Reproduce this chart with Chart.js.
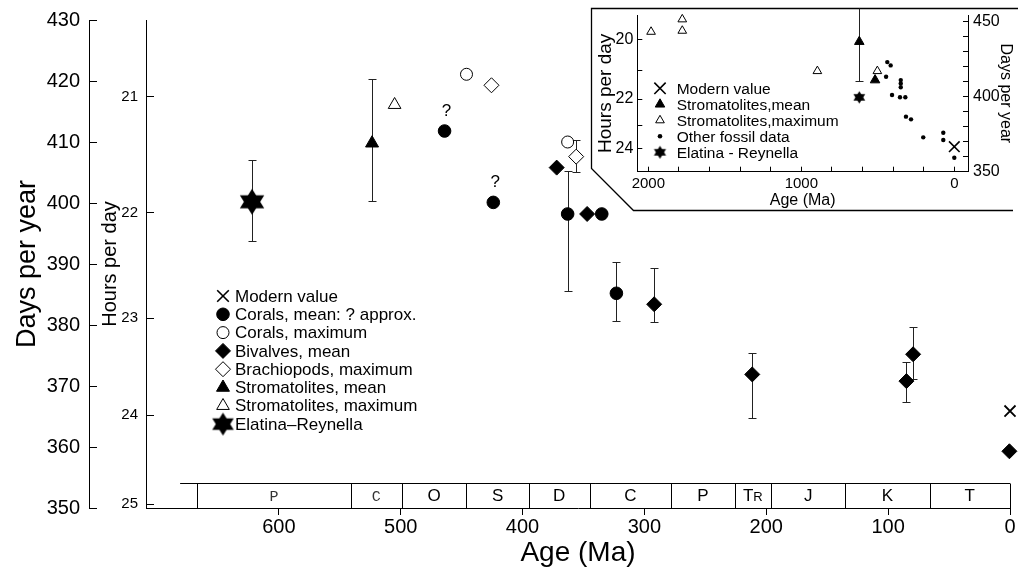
<!DOCTYPE html>
<html>
<head>
<meta charset="utf-8">
<script src="https://cdn.jsdelivr.net/npm/chart.js@4/dist/chart.umd.min.js"></script>
<style>
  html, body { margin: 0; padding: 0; background: #fff; }
  #wrap { position: relative; width: 1018px; height: 571px; overflow: hidden; }
  #main { position: absolute; left: 0; top: 0; width: 1018px; height: 571px; }
  #inset { position: absolute; left: 585px; top: 0; width: 433px; height: 215px; }
</style>
</head>
<body>
<div id="wrap">
  <canvas id="main" width="1018" height="571"></canvas>
  <canvas id="inset" width="433" height="215"></canvas>
</div>
<script>
// ---------------- DATA: main chart (Phanerozoic) ----------------
const modernAge = [0];
const modernDays = [365.9];

const coralMeanAge  = [464, 424, 363, 335, 323];
const coralMeanDays = [411.8, 400.1, 398.2, 398.2, 385.2];
const coralMeanLow  = [null, null, 385.5, null, 380.7];
const coralMeanHigh = [null, null, 405.3, null, 390.4];
const coralMeanNote = ['?', '?', '', '', ''];

const coralMaxAge  = [446, 363];
const coralMaxDays = [421.1, 410.0];

const bivalveAge  = [372, 347, 292, 211.5, 85, 79.5, 0.5];
const bivalveDays = [405.8, 398.2, 383.4, 371.9, 370.8, 375.2, 359.3];
const bivalveLow  = [null, null, 380.5, 364.7, 367.3, 371.1, null];
const bivalveHigh = [null, null, 389.4, 375.4, 373.9, 379.7, null];

const brachAge  = [425.5, 356];
const brachDays = [419.3, 407.6];
const brachLow  = [null, 405.1];
const brachHigh = [null, 410.4];

const stromMeanAge  = [523.5];
const stromMeanDays = [409.8];
const stromMeanLow  = [400.4];
const stromMeanHigh = [420.3];

const stromMaxAge  = [505];
const stromMaxDays = [416.1];

const elatinaAge  = [622];
const elatinaDays = [400.2];
const elatinaLow  = [393.8];
const elatinaHigh = [407.1];

const ageTicks   = [600, 500, 400, 300, 200, 100, 0];
const hoursTicks = [21, 22, 23, 24, 25];
const periodNames  = ['P', 'C', 'O', 'S', 'D', 'C', 'P', 'TR', 'J', 'K', 'T'];
const periodBounds = [667, 541, 499, 446, 395, 345, 278, 226, 196, 135, 66, 0];
const scaleBarStart = 681;

// ---------------- DATA: inset (last 2000 Ma) ----------------
const insetModernAge  = [0];
const insetModernDays = [366.7];

const insetStromMeanAge  = [621, 518];
const insetStromMeanDays = [436.7, 411.1];
const insetStromMeanLow  = [410.5, null];
const insetStromMeanHigh = [459, null];

const insetStromMaxAge  = [1982, 1778, 1778, 895, 503];
const insetStromMaxDays = [443.3, 451.6, 444.0, 417.1, 417.1];

const insetOtherAge  = [446, 438, 416, 407, 350, 350, 350, 355, 320, 316, 283, 203, 72, 72, 0];
const insetOtherDays = [413.3, 423.1, 420.9, 401.1, 411.1, 408.9, 406.3, 399.6, 399.6, 386.7, 384.9, 372.9, 376.0, 371.1, 359.3];

const insetElatinaAge  = [621];
const insetElatinaDays = [399.6];

const insetAgeTicks   = [2000, 1800, 1600, 1400, 1200, 1000, 800, 600, 400, 200, 0];
const insetHoursTicks = [20, 21, 22, 23, 24];
const insetDaysTicks  = [350, 360, 370, 380, 390, 400, 410, 420, 430, 440, 450];

// hours in one (modern) year: days-per-year = HPY / hours-per-day
const HPY = 365.24 * 24;

// ---------------- helpers ----------------
const FONT = "'Liberation Sans', Arial, Helvetica, sans-serif";
Chart.defaults.font.family = FONT;
Chart.defaults.color = '#000';

function pts(xs, ys) { return xs.map((x, i) => ({ x: x, y: ys[i] })); }

function fixBox(size, horizontal) {
  return s => {
    if (horizontal) s.height = size; else s.width = size;
    s.paddingTop = 0; s.paddingBottom = 0; s.paddingLeft = 0; s.paddingRight = 0;
  };
}

function hexagram(R) {
  const s = Math.ceil(2 * R + 2);
  const c = document.createElement('canvas');
  c.width = s; c.height = s;
  const g = c.getContext('2d');
  g.fillStyle = '#000';
  const cx = s / 2, cy = s / 2;
  [-Math.PI / 2, Math.PI / 2].forEach(off => {
    g.beginPath();
    for (let k = 0; k < 3; k++) {
      const a = off + k * 2 * Math.PI / 3;
      g.lineTo(cx + R * Math.cos(a) * 1.08, cy + R * Math.sin(a));
    }
    g.closePath();
    g.fill();
  });
  return c;
}
const bigStar = hexagram(13);
const legendStar = hexagram(11.5);
const smallStar = hexagram(6.3);
const insetLegendStar = hexagram(6.5);

function drawMarker(ctx, ds, x, y, override) {
  const style = (override && override.pointStyle) || ds.pointStyle;
  const radius = (override && override.radius) || ds.pointRadius;
  const bw = (override && override.borderWidth) || ds.borderWidth;
  ctx.save();
  ctx.fillStyle = ds.backgroundColor;
  ctx.strokeStyle = ds.borderColor;
  ctx.lineWidth = bw;
  if (Chart.helpers && Chart.helpers.drawPoint) {
    Chart.helpers.drawPoint(ctx, { pointStyle: style, radius: radius, rotation: 0, borderWidth: bw }, x, y);
  } else if (typeof style === 'object') {
    ctx.drawImage(style, x - style.width / 2, y - style.height / 2);
  } else {
    ctx.beginPath(); ctx.arc(x, y, radius, 0, Math.PI * 2); ctx.fill(); ctx.stroke();
  }
  ctx.restore();
}

const errorBarPlugin = {
  id: 'errorBars',
  beforeDatasetsDraw(chart, args, opts) {
    const ctx = chart.ctx;
    const cap = opts.cap || 4;
    chart.data.datasets.forEach((ds, i) => {
      if (!ds.errLow) return;
      const meta = chart.getDatasetMeta(i);
      const ys = chart.scales[ds.yAxisID];
      ds.errLow.forEach((lo, j) => {
        const hi = ds.errHigh[j];
        if (lo == null || hi == null) return;
        const x = Math.round(meta.data[j].x) + 0.5;
        const y1 = Math.round(ys.getPixelForValue(lo)) + 0.5;
        const y2 = Math.round(ys.getPixelForValue(hi)) + 0.5;
        ctx.save();
        ctx.strokeStyle = '#222';
        ctx.lineWidth = 1;
        ctx.beginPath();
        ctx.moveTo(x, y1); ctx.lineTo(x, y2);
        ctx.moveTo(x - cap, y1); ctx.lineTo(x + cap, y1);
        if (!ds.noTopCap) { ctx.moveTo(x - cap, y2); ctx.lineTo(x + cap, y2); }
        ctx.stroke();
        ctx.restore();
      });
    });
  }
};

const notesPlugin = {
  id: 'notes',
  afterDatasetsDraw(chart) {
    const ctx = chart.ctx;
    chart.data.datasets.forEach((ds, i) => {
      if (!ds.notes) return;
      const meta = chart.getDatasetMeta(i);
      ds.notes.forEach((t, j) => {
        if (!t) return;
        const el = meta.data[j];
        ctx.save();
        ctx.font = '17px ' + FONT;
        ctx.fillStyle = '#000';
        ctx.textAlign = 'center';
        ctx.textBaseline = 'middle';
        ctx.fillText(t, el.x + 2, el.y - 20);
        ctx.restore();
      });
    });
  }
};

const floatLegendPlugin = {
  id: 'floatLegend',
  afterDraw(chart, args, opts) {
    if (!opts || !opts.display) return;
    const ctx = chart.ctx;
    chart.data.datasets.forEach((ds, i) => {
      const y = opts.y + i * opts.step;
      const ov = opts.overrides && opts.overrides[i];
      drawMarker(ctx, ds, opts.markerX, y, ov);
      ctx.save();
      ctx.font = opts.fontSize + 'px ' + FONT;
      ctx.fillStyle = '#000';
      ctx.textAlign = 'left';
      ctx.textBaseline = 'middle';
      ctx.fillText(ds.label, opts.textX, y + 1);
      ctx.restore();
    });
  }
};

const timescalePlugin = {
  id: 'timescale',
  beforeDatasetsDraw(chart) {
    const ctx = chart.ctx;
    const xs = chart.scales.x;
    const bottom = chart.chartArea.bottom;
    const top = Math.round(bottom - 25) + 0.5;
    ctx.save();
    ctx.strokeStyle = '#000';
    ctx.lineWidth = 1;
    ctx.beginPath();
    ctx.moveTo(xs.getPixelForValue(scaleBarStart), top);
    ctx.lineTo(xs.getPixelForValue(0), top);
    periodBounds.forEach(b => {
      const px = Math.round(xs.getPixelForValue(b)) + 0.5;
      ctx.moveTo(px, top); ctx.lineTo(px, bottom);
    });
    ctx.stroke();
    ctx.textBaseline = 'middle';
    ctx.textAlign = 'center';
    periodNames.forEach((name, i) => {
      const cx = (xs.getPixelForValue(periodBounds[i]) + xs.getPixelForValue(periodBounds[i + 1])) / 2;
      const cy = (top + bottom) / 2 + 1;
      if (i < 2) {
        ctx.font = '15px "Liberation Mono", "DejaVu Sans Mono", monospace';
        ctx.fillStyle = '#333';
        ctx.fillText(name, cx, cy);
      } else if (name.length > 1) {
        ctx.fillStyle = '#000';
        ctx.font = '17px ' + FONT;
        const w1 = ctx.measureText(name[0]).width;
        ctx.font = '13px ' + FONT;
        const w2 = ctx.measureText(name.slice(1)).width;
        const x0 = cx - (w1 + w2) / 2;
        ctx.textAlign = 'left';
        ctx.font = '17px ' + FONT;
        ctx.fillText(name[0], x0, cy);
        ctx.font = '13px ' + FONT;
        ctx.fillText(name.slice(1), x0 + w1, cy + 1);
        ctx.textAlign = 'center';
      } else {
        ctx.fillStyle = '#000';
        ctx.font = '17px ' + FONT;
        ctx.fillText(name, cx, cy);
      }
    });
    ctx.restore();
  }
};

const insetFramePlugin = {
  id: 'insetFrame',
  beforeDraw(chart) {
    const ctx = chart.ctx;
    const W = chart.width;
    ctx.save();
    ctx.fillStyle = '#fff';
    ctx.beginPath();
    ctx.moveTo(6.5, 8.5);
    ctx.lineTo(W, 8.5);
    ctx.lineTo(W, 210.5);
    ctx.lineTo(48.5, 210.5);
    ctx.lineTo(6.5, 168.5);
    ctx.closePath();
    ctx.fill();
    ctx.strokeStyle = '#000';
    ctx.lineWidth = 1.3;
    ctx.beginPath();
    ctx.moveTo(W, 8.5);
    ctx.lineTo(6.5, 8.5);
    ctx.lineTo(6.5, 168.5);
    ctx.lineTo(48.5, 210.5);
    ctx.lineTo(W - 5, 210.5);
    ctx.stroke();
    ctx.restore();
  }
};

// ---------------- MAIN CHART ----------------
const mainDatasets = [
  { label: 'Modern value', data: pts(modernAge, modernDays), pointStyle: 'crossRot', pointRadius: 7.8, borderWidth: 1.8, borderColor: '#000', backgroundColor: '#000' },
  { label: 'Corals, mean: ? approx.', data: pts(coralMeanAge, coralMeanDays), errLow: coralMeanLow, errHigh: coralMeanHigh, notes: coralMeanNote, pointStyle: 'circle', pointRadius: 6.3, borderWidth: 1, borderColor: '#000', backgroundColor: '#000' },
  { label: 'Corals, maximum', data: pts(coralMaxAge, coralMaxDays), pointStyle: 'circle', pointRadius: 6, borderWidth: 1, borderColor: '#000', backgroundColor: '#fff' },
  { label: 'Bivalves, mean', data: pts(bivalveAge, bivalveDays), errLow: bivalveLow, errHigh: bivalveHigh, pointStyle: 'rectRot', pointRadius: 7.5, borderWidth: 1, borderColor: '#000', backgroundColor: '#000' },
  { label: 'Brachiopods, maximum', data: pts(brachAge, brachDays), errLow: brachLow, errHigh: brachHigh, pointStyle: 'rectRot', pointRadius: 7.5, borderWidth: 1, borderColor: '#000', backgroundColor: '#fff' },
  { label: 'Stromatolites, mean', data: pts(stromMeanAge, stromMeanDays), errLow: stromMeanLow, errHigh: stromMeanHigh, pointStyle: 'triangle', pointRadius: 7.5, borderWidth: 1, borderColor: '#000', backgroundColor: '#000' },
  { label: 'Stromatolites, maximum', data: pts(stromMaxAge, stromMaxDays), pointStyle: 'triangle', pointRadius: 7.3, borderWidth: 1, borderColor: '#000', backgroundColor: '#fff' },
  { label: 'Elatina\u2013Reynella', data: pts(elatinaAge, elatinaDays), errLow: elatinaLow, errHigh: elatinaHigh, pointStyle: bigStar, pointRadius: 13, borderWidth: 0, borderColor: '#000', backgroundColor: '#000' }
].map(d => Object.assign({ type: 'scatter', yAxisID: 'yDays', xAxisID: 'x', showLine: false, clip: false,
  pointBorderColor: d.borderColor, pointBackgroundColor: d.backgroundColor, pointBorderWidth: d.borderWidth,
  pointHoverRadius: d.pointRadius }, d));

new Chart(document.getElementById('main'), {
  type: 'scatter',
  data: { datasets: mainDatasets },
  plugins: [timescalePlugin, errorBarPlugin, notesPlugin, floatLegendPlugin],
  options: {
    responsive: false,
    animation: false,
    events: [],
    layout: { autoPadding: false, padding: { left: 7, top: 20, right: 8, bottom: 0 } },
    plugins: {
      legend: { display: false },
      tooltip: { enabled: false },
      errorBars: { cap: 4 },
      floatLegend: { display: true, markerX: 223, textX: 235, y: 296, step: 18.3, fontSize: 17,
        overrides: { 0: { radius: 8.2, borderWidth: 1.6 }, 7: { pointStyle: legendStar } } }
    },
    scales: {
      x: {
        type: 'linear', position: 'bottom', reverse: true, min: 0, max: 709,
        afterBuildTicks: s => { s.ticks = ageTicks.map(v => ({ value: v })); },
        ticks: { font: { size: 20 }, color: '#000', padding: 0, maxRotation: 0, autoSkip: false },
        grid: { display: true, drawOnChartArea: false, drawTicks: true, tickLength: 7, color: '#000', lineWidth: 1 },
        border: { display: true, color: '#000', width: 1 },
        title: { display: true, text: 'Age (Ma)', font: { size: 28 }, color: '#000', padding: { top: 0, bottom: 1 } },
        afterFit: fixBox(63, true)
      },
      yDays: {
        type: 'linear', position: 'left', weight: 1, min: 350, max: 430,
        ticks: { stepSize: 10, font: { size: 20 }, color: '#000', padding: 17, autoSkip: false },
        grid: { display: true, drawOnChartArea: false, drawTicks: true, tickLength: -8, color: '#000', lineWidth: 1 },
        border: { display: true, color: '#000', width: 1 },
        title: { display: true, text: 'Days per year', font: { size: 27 }, color: '#000', padding: { top: 4, bottom: 0 } },
        afterFit: fixBox(82, false)
      },
      yHours: {
        type: 'linear', position: 'left', weight: 0, min: 350, max: 430,
        afterBuildTicks: s => { s.ticks = hoursTicks.map(h => ({ value: HPY / h })); },
        ticks: { callback: (v, i) => String(hoursTicks[i]), font: { size: 15 }, color: '#000', padding: 16, autoSkip: false },
        grid: { display: true, drawOnChartArea: false, drawTicks: true, tickLength: -8, color: '#000', lineWidth: 1 },
        border: { display: true, color: '#000', width: 1 },
        title: { display: true, text: 'Hours per day', font: { size: 20 }, color: '#000', padding: { top: 9, bottom: 0 } },
        afterFit: fixBox(57, false)
      }
    }
  }
});

// ---------------- INSET CHART ----------------
const insetDatasets = [
  { label: 'Modern value', data: pts(insetModernAge, insetModernDays), pointStyle: 'crossRot', pointRadius: 7.5, borderWidth: 1.6, borderColor: '#000', backgroundColor: '#000' },
  { label: 'Stromatolites,mean', data: pts(insetStromMeanAge, insetStromMeanDays), errLow: insetStromMeanLow, errHigh: insetStromMeanHigh, noTopCap: true, pointStyle: 'triangle', pointRadius: 5.5, borderWidth: 1, borderColor: '#000', backgroundColor: '#000' },
  { label: 'Stromatolites,maximum', data: pts(insetStromMaxAge, insetStromMaxDays), pointStyle: 'triangle', pointRadius: 5, borderWidth: 1, borderColor: '#000', backgroundColor: '#fff' },
  { label: 'Other fossil data', data: pts(insetOtherAge, insetOtherDays), pointStyle: 'circle', pointRadius: 2.2, borderWidth: 0, borderColor: '#000', backgroundColor: '#000' },
  { label: 'Elatina - Reynella', data: pts(insetElatinaAge, insetElatinaDays), pointStyle: smallStar, pointRadius: 6.5, borderWidth: 0, borderColor: '#000', backgroundColor: '#000' }
].map(d => Object.assign({ type: 'scatter', yAxisID: 'yD', xAxisID: 'x', showLine: false, clip: false,
  pointBorderColor: d.borderColor, pointBackgroundColor: d.backgroundColor, pointBorderWidth: d.borderWidth,
  pointHoverRadius: d.pointRadius }, d));

new Chart(document.getElementById('inset'), {
  type: 'scatter',
  data: { datasets: insetDatasets },
  plugins: [insetFramePlugin, errorBarPlugin, floatLegendPlugin],
  options: {
    responsive: false,
    animation: false,
    events: [],
    layout: { autoPadding: false, padding: { left: 8, top: 15, right: 0, bottom: 0 } },
    plugins: {
      legend: { display: false },
      tooltip: { enabled: false },
      errorBars: { cap: 4 },
      floatLegend: { display: true, markerX: 75, textX: 91.7, y: 88.3, step: 16, fontSize: 15.5,
        overrides: { 0: { radius: 8 }, 4: { pointStyle: insetLegendStar }, 3: { radius: 2.3 } } }
    },
    scales: {
      x: {
        type: 'linear', position: 'bottom', reverse: true, min: -89.5, max: 2072,
        afterBuildTicks: s => { s.ticks = insetAgeTicks.map(v => ({ value: v })); },
        ticks: { callback: v => (v % 1000 === 0 ? String(v) : ''), font: { size: 15 }, color: '#000', padding: 8, maxRotation: 0, autoSkip: false },
        grid: { display: true, drawOnChartArea: false, drawTicks: true, tickLength: -5, color: '#000', lineWidth: 1 },
        border: { display: true, color: '#000', width: 1 },
        title: { display: true, text: 'Age (Ma)', font: { size: 16 }, color: '#000', padding: { top: 0, bottom: 5 } },
        afterFit: fixBox(43.3, true)
      },
      yH: {
        type: 'linear', position: 'left', min: 350, max: 454.5,
        afterBuildTicks: s => { s.ticks = insetHoursTicks.map(h => ({ value: HPY / h })); },
        ticks: { callback: (v, i) => (insetHoursTicks[i] % 2 === 0 ? String(insetHoursTicks[i]) : ''), font: { size: 16 }, color: '#000', padding: 9, autoSkip: false },
        grid: { display: true, drawOnChartArea: false, drawTicks: true, tickLength: -5, color: '#000', lineWidth: 1 },
        border: { display: true, color: '#000', width: 1 },
        title: { display: true, text: 'Hours per day', font: { size: 19 }, color: '#000', padding: { top: 1, bottom: 0 } },
        afterFit: fixBox(44.3, false)
      },
      yD: {
        type: 'linear', position: 'right', min: 350, max: 454.5,
        afterBuildTicks: s => { s.ticks = insetDaysTicks.map(v => ({ value: v })); },
        ticks: { callback: v => (v % 50 === 0 ? String(v) : ''), font: { size: 16 }, color: '#000', padding: 10, autoSkip: false },
        grid: { display: true, drawOnChartArea: false, drawTicks: true, tickLength: -5, color: '#000', lineWidth: 1 },
        border: { display: true, color: '#000', width: 1 },
        title: { display: true, text: 'Days per year', font: { size: 16 }, color: '#000', padding: { top: 3, bottom: 0 } },
        afterFit: fixBox(50, false)
      }
    }
  }
});
</script>
</body>
</html>
